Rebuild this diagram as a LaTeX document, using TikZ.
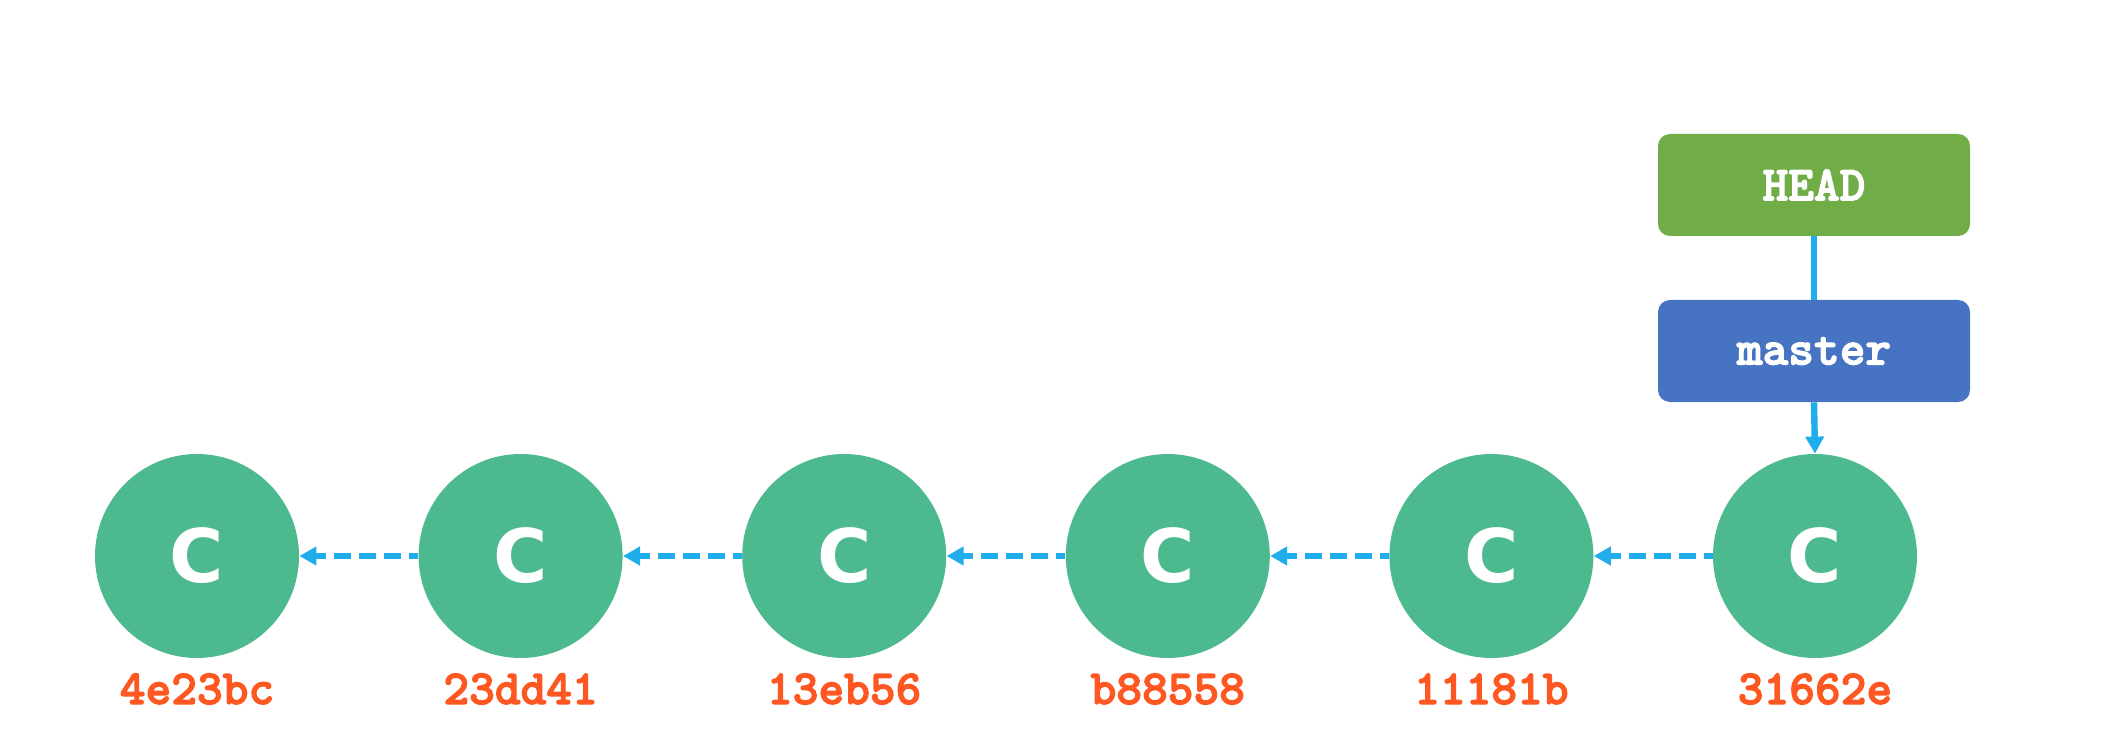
\documentclass[tikz,border=0pt]{standalone}
\usepackage{fontspec}
\usetikzlibrary{arrows.meta}
\newfontfamily\cfont{DejaVu Sans}
\newfontfamily\courfont[FakeBold=2.5]{lmmonolt10-bold.otf}
\definecolor{commitgreen}{HTML}{4CB98E}
\definecolor{headgreen}{HTML}{70AD47}
\definecolor{masterblue}{HTML}{4674C2}
\definecolor{arrowblue}{HTML}{1FAEEB}
\definecolor{hashorange}{HTML}{FF5722}
\begin{document}
\begin{tikzpicture}[x=0.5pt,y=-0.5pt,
  commit/.style={circle,fill=commitgreen,minimum size=102pt,inner sep=0pt,
    text=white,font=\cfont\bfseries\fontsize{37}{37}\selectfont},
  refbox/.style={rectangle,rounded corners=6pt,minimum width=156pt,minimum height=51pt,
    inner sep=0pt,text=white,font=\courfont\fontsize{24.5}{24.5}\selectfont},
  hashlabel/.style={anchor=base,text=hashorange,inner sep=0pt,
    font=\courfont\fontsize{24.5}{24.5}\selectfont},
  parentlink/.style={draw=arrowblue,line width=3.3pt,dash pattern=on 8.5pt off 4pt,dash phase=4pt,
    -{Triangle[length=8.5pt,width=9pt]}},
  reflink/.style={draw=arrowblue,line width=3.2pt},
  refarrow/.style={draw=arrowblue,line width=3.2pt,-{Triangle[length=8.5pt,width=9pt]}}
]
\useasboundingbox (0,0) rectangle (2126,754);
\foreach \i/\x/\h in {1/197/4e23bc,2/520.6/23dd41,3/844.2/13eb56,4/1167.8/b88558,5/1491.4/11181b,6/1815/31662e}{
  \node[commit] (c\i) at (\x,556) {C};
  \node[hashlabel] (l\i) at (\x,704) {\h};
}
\node[refbox,fill=headgreen] (head) at (1814,185) {HEAD};
\node[refbox,fill=masterblue] (master) at (1814,351) {master};
\foreach \a/\b in {6/5,5/4,4/3,3/2,2/1}{
  \draw[parentlink] (c\a.west) -- (c\b.east);
}
\draw[reflink] (head.south) -- (master.north);
\draw[refarrow] (master.south) -- (c6.north);
\end{tikzpicture}
\end{document}
